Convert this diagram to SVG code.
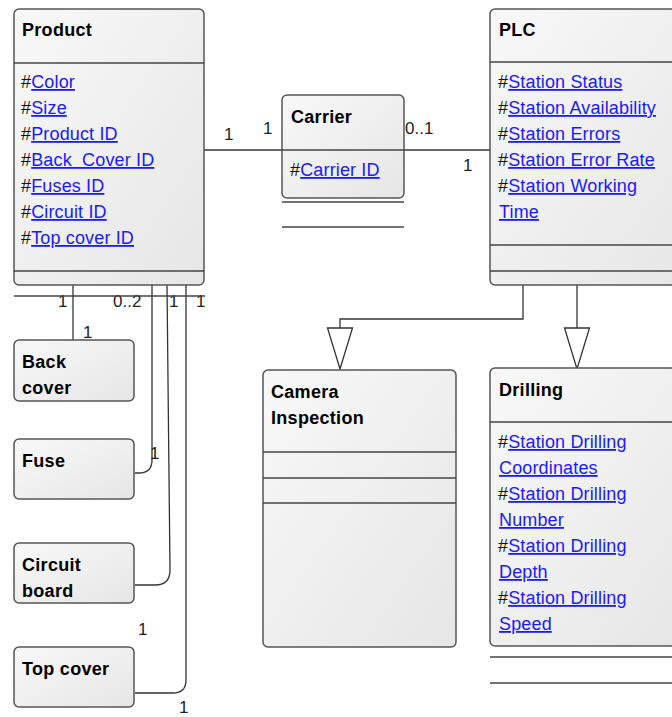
<svg xmlns="http://www.w3.org/2000/svg" width="672" height="717" viewBox="0 0 672 717">
  <defs>
    <linearGradient id="boxFill" x1="0" y1="0" x2="1" y2="1">
      <stop offset="0" stop-color="#f8f8f8"/>
      <stop offset="1" stop-color="#e6e6e6"/>
    </linearGradient>
    <style>
      .box { fill: url(#boxFill); stroke: #555; stroke-width: 1.5; }
      .sep { stroke: #444; stroke-width: 1.4; fill: none; }
      .title { font-family: "Liberation Sans", Arial, sans-serif; font-size: 18px; font-weight: bold; fill: #000; letter-spacing: 0.3px; }
      .attr { font-family: "Liberation Sans", Arial, sans-serif; font-size: 18px; fill: #111; letter-spacing: 0.15px; }
      .link { fill: #1a1aff; text-decoration: underline; }
      .conn { stroke: #333; stroke-width: 1.3; fill: none; }
      .gen { fill: #fff; stroke: #333; stroke-width: 1.3; }
      .mult { font-family: "Liberation Sans", Arial, sans-serif; font-size: 17px; fill: #222; }
    </style>
  </defs>

  <!-- connectors -->
  <g id="connectors">
    <!-- Product - Carrier - PLC association -->
    <line class="conn" x1="204" y1="150" x2="490" y2="150"/>
    <!-- Product to parts -->
    <path class="conn" d="M73,285 V340"/>
    <path class="conn" d="M152,285 V460 Q152,473 139,473 H135"/>
    <path class="conn" d="M167,285 L170,570 Q170,585 155,585 H135"/>
    <path class="conn" d="M186,285 V680 Q186,693 173,693 H135"/>
    <!-- generalizations from PLC -->
    <path class="conn" d="M523,285 V319 H340 V328"/>
    <polygon class="gen" points="327.5,328 352.5,328 340,369"/>
    <path class="conn" d="M577,285 V328"/>
    <polygon class="gen" points="564.5,328 589.5,328 577,369"/>
    <!-- multiplicities -->
    <text class="mult" x="224" y="140">1</text>
    <text class="mult" x="263" y="134">1</text>
    <text class="mult" x="405" y="134">0..1</text>
    <text class="mult" x="463" y="171">1</text>
    <text class="mult" x="58" y="307">1</text>
    <text class="mult" x="113" y="307">0..2</text>
    <text class="mult" x="169" y="307">1</text>
    <text class="mult" x="196" y="307">1</text>
    <text class="mult" x="83" y="338">1</text>
    <text class="mult" x="150" y="459">1</text>
    <text class="mult" x="138" y="635">1</text>
    <text class="mult" x="179" y="713">1</text>
  </g>

  <!-- Product class -->
  <g id="product">
    <rect class="box" x="14" y="9" width="190" height="276" rx="5"/>
    <line class="sep" x1="14" y1="63" x2="204" y2="63"/>
    <line class="sep" x1="14" y1="271" x2="204" y2="271"/>
    <line class="sep" x1="14" y1="296" x2="205" y2="296"/>
    <text class="title" x="22" y="36">Product</text>
    <text class="attr" x="21" y="88">#<tspan class="link">Color</tspan></text>
    <text class="attr" x="21" y="114">#<tspan class="link">Size</tspan></text>
    <text class="attr" x="21" y="140">#<tspan class="link">Product ID</tspan></text>
    <text class="attr" x="21" y="166" xml:space="preserve">#<tspan class="link">Back  Cover ID</tspan></text>
    <text class="attr" x="21" y="192">#<tspan class="link">Fuses ID</tspan></text>
    <text class="attr" x="21" y="218">#<tspan class="link">Circuit ID</tspan></text>
    <text class="attr" x="21" y="244">#<tspan class="link">Top cover ID</tspan></text>
  </g>

  <!-- Carrier class -->
  <g id="carrier">
    <rect class="box" x="282" y="95" width="122" height="103" rx="5"/>
    <line class="sep" x1="282" y1="150" x2="404" y2="150"/>
    <line class="sep" x1="282" y1="202" x2="404" y2="202"/>
    <line class="sep" x1="282" y1="227" x2="404" y2="227"/>
    <text class="title" x="291" y="123">Carrier</text>
    <text class="attr" x="290" y="176">#<tspan class="link">Carrier ID</tspan></text>
  </g>

  <!-- PLC class -->
  <g id="plc">
    <rect class="box" x="490" y="9" width="200" height="276" rx="5"/>
    <line class="sep" x1="490" y1="62" x2="672" y2="62"/>
    <line class="sep" x1="490" y1="245" x2="672" y2="245"/>
    <line class="sep" x1="490" y1="271" x2="672" y2="271"/>
    <text class="title" x="499" y="36">PLC</text>
    <text class="attr" x="498" y="88">#<tspan class="link">Station Status</tspan></text>
    <text class="attr" x="498" y="114">#<tspan class="link">Station Availability</tspan></text>
    <text class="attr" x="498" y="140">#<tspan class="link">Station Errors</tspan></text>
    <text class="attr" x="498" y="166">#<tspan class="link">Station Error Rate</tspan></text>
    <text class="attr" x="498" y="192">#<tspan class="link">Station Working</tspan></text>
    <text class="attr" x="499" y="218"><tspan class="link">Time</tspan></text>
  </g>

  <!-- Camera Inspection class -->
  <g id="camera-inspection">
    <rect class="box" x="263" y="370" width="193" height="277" rx="5"/>
    <line class="sep" x1="263" y1="452" x2="456" y2="452"/>
    <line class="sep" x1="263" y1="478" x2="456" y2="478"/>
    <line class="sep" x1="263" y1="503" x2="456" y2="503"/>
    <text class="title" x="271" y="398">Camera</text>
    <text class="title" x="271" y="424">Inspection</text>
  </g>

  <!-- Drilling class -->
  <g id="drilling">
    <rect class="box" x="490" y="368" width="200" height="278" rx="5"/>
    <line class="sep" x1="490" y1="422" x2="672" y2="422"/>
    <line class="sep" x1="490" y1="657" x2="672" y2="657"/>
    <line class="sep" x1="490" y1="683" x2="672" y2="683"/>
    <text class="title" x="499" y="396">Drilling</text>
    <text class="attr" x="498" y="448">#<tspan class="link">Station Drilling</tspan></text>
    <text class="attr" x="499" y="474"><tspan class="link">Coordinates</tspan></text>
    <text class="attr" x="498" y="500">#<tspan class="link">Station Drilling</tspan></text>
    <text class="attr" x="499" y="526"><tspan class="link">Number</tspan></text>
    <text class="attr" x="498" y="552">#<tspan class="link">Station Drilling</tspan></text>
    <text class="attr" x="499" y="578"><tspan class="link">Depth</tspan></text>
    <text class="attr" x="498" y="604">#<tspan class="link">Station Drilling</tspan></text>
    <text class="attr" x="499" y="630"><tspan class="link">Speed</tspan></text>
  </g>

  <!-- part classes -->
  <g id="back-cover">
    <rect class="box" x="14" y="340" width="120" height="61" rx="5"/>
    <text class="title" x="22" y="368">Back</text>
    <text class="title" x="22" y="394">cover</text>
  </g>
  <g id="fuse">
    <rect class="box" x="14" y="439" width="120" height="60" rx="5"/>
    <text class="title" x="22" y="467">Fuse</text>
  </g>
  <g id="circuit-board">
    <rect class="box" x="14" y="543" width="120" height="60" rx="5"/>
    <text class="title" x="22" y="571">Circuit</text>
    <text class="title" x="22" y="597">board</text>
  </g>
  <g id="top-cover">
    <rect class="box" x="14" y="647" width="120" height="60" rx="5"/>
    <text class="title" x="22" y="675">Top cover</text>
  </g>
</svg>
